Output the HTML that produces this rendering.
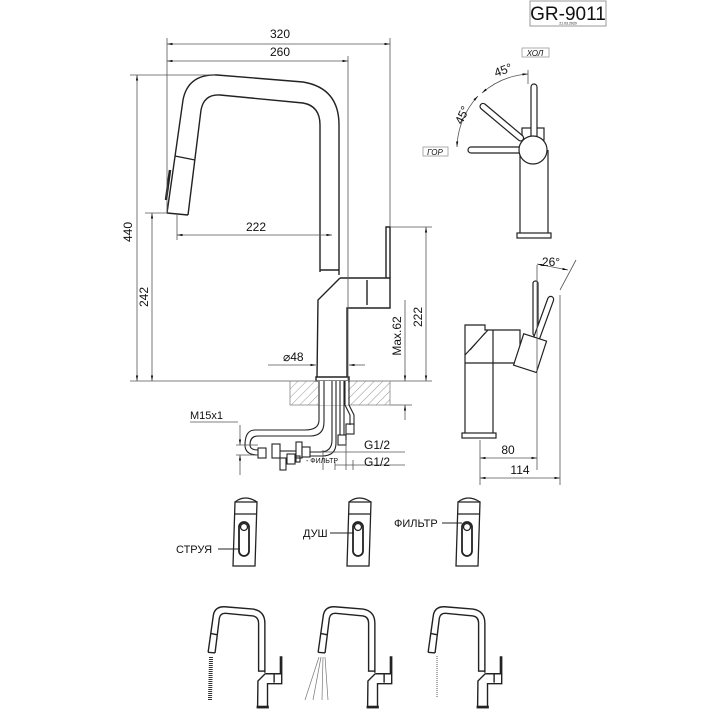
<!DOCTYPE html>
<html><head><meta charset="utf-8"><style>
html,body{margin:0;padding:0;background:#fff}
svg{display:block}
text{font-family:"Liberation Sans","DejaVu Sans",sans-serif;fill:#111}
#fau *{vector-effect:non-scaling-stroke}
</style></head><body>
<svg width="720" height="720" viewBox="0 0 720 720" xmlns="http://www.w3.org/2000/svg">
<defs>
<marker id="a" viewBox="0 0 10 10" refX="10" refY="5" markerWidth="7" markerHeight="7" orient="auto-start-reverse"><path d="M0,3 L10,5 L0,7 z" fill="#111"/></marker>
<pattern id="h" width="6" height="6" patternUnits="userSpaceOnUse" patternTransform="rotate(45)"><line x1="0" y1="0" x2="0" y2="6" stroke="#999" stroke-width="1"/></pattern>
<g id="fau" fill="none" stroke="#222" stroke-width="1.4">
<path d="M167,213 L183,100 Q188,74 217,75 L303,82 Q339,88 339,125 L339,275"/>
<path d="M188,215 L201,110 Q204,94 220,95 L303,103 Q320,106 320,125 L320,272"/>
<path d="M175,156 L195,160 M167,213 L188,215"/>
<path d="M320,270 L339,270"/>
<path d="M340,278 L318,300 L317,377 M340,278 L390,278 L390,308 L347,308 L347,377"/>
<path d="M386,278 L386,227 L390,227 L390,278"/>
<path d="M367,280 L367,305"/>
<rect x="316" y="377" width="33" height="4"/>
</g>
</defs>

<!-- title -->
<rect x="530" y="1" width="76" height="25" fill="none" stroke="#999" stroke-width="1"/>
<text x="568" y="20" font-size="19" text-anchor="middle">GR-9011</text>
<text x="568" y="24.5" font-size="3.5" text-anchor="middle">21.03.2020</text>

<!-- main faucet -->
<use href="#fau"/>
<path d="M170,170 L166,200" stroke="#222" stroke-width="2.5" fill="none"/>

<!-- dims -->
<g stroke="#555" stroke-width="0.8" fill="none">
<line x1="167" y1="44" x2="390" y2="44" marker-start="url(#a)" marker-end="url(#a)"/>
<line x1="167" y1="61" x2="348" y2="61" marker-start="url(#a)" marker-end="url(#a)"/>
<line x1="167" y1="38" x2="167" y2="213"/>
<line x1="390" y1="38" x2="390" y2="227"/>
<line x1="348" y1="56" x2="348" y2="381"/>
<line x1="130" y1="75" x2="215" y2="75"/>
<line x1="137" y1="75" x2="137" y2="381" marker-start="url(#a)" marker-end="url(#a)"/>
<line x1="145" y1="213" x2="167" y2="213"/>
<line x1="152" y1="213" x2="152" y2="381" marker-start="url(#a)" marker-end="url(#a)"/>
<line x1="177" y1="235" x2="332" y2="235" marker-start="url(#a)" marker-end="url(#a)"/>
<line x1="177" y1="215" x2="177" y2="240"/>
<line x1="390" y1="227" x2="432" y2="227"/>
<line x1="426" y1="227" x2="426" y2="381" marker-start="url(#a)" marker-end="url(#a)"/>
<line x1="405" y1="300" x2="405" y2="381" marker-end="url(#a)"/>
<line x1="405" y1="420" x2="405" y2="405" marker-end="url(#a)"/>
<line x1="130" y1="381" x2="432" y2="381"/>
<line x1="268" y1="365" x2="316" y2="365" marker-end="url(#a)"/>
<line x1="365" y1="365" x2="349" y2="365" marker-end="url(#a)"/>
<line x1="390" y1="405" x2="412" y2="405"/>
</g>
<text x="280" y="38" font-size="12" text-anchor="middle">320</text>
<text x="280" y="56" font-size="12" text-anchor="middle">260</text>
<text x="256" y="231" font-size="12" text-anchor="middle">222</text>
<text x="283" y="361" font-size="12">⌀48</text>
<text font-size="12" text-anchor="middle" transform="translate(132,232) rotate(-90)">440</text>
<text font-size="12" text-anchor="middle" transform="translate(148,297) rotate(-90)">242</text>
<text font-size="12" text-anchor="middle" transform="translate(422,317) rotate(-90)">222</text>
<text font-size="12" text-anchor="middle" transform="translate(401,336) rotate(-90)">Max.62</text>

<!-- counter -->
<rect x="290" y="381" width="100" height="24" fill="url(#h)" stroke="#888" stroke-width="0.8"/>
<rect x="318" y="381" width="30" height="24" fill="#fff"/>
<!-- hoses -->
<g fill="none" stroke="#222" stroke-width="1.1">
<path d="M319,381 L319,420 Q319,430 305,430 L255,430 Q245,430 245,445 Q245,455 258,455"/>
<path d="M324,381 L324,422 Q324,436 310,436 L258,436 Q250,436 250,445 Q250,450 258,450"/>
<path d="M332,381 L332,440 Q332,452 320,452 L310,452 M336,381 L336,443 Q336,456 322,456 L310,456"/>
<path d="M340,381 L340,435 M344,381 L344,435"/>
<path d="M345,381 L345,405 L350,415 L350,425 M349,381 L349,405 L354,415 L354,425"/>
<rect x="258" y="448" width="8" height="10"/><rect x="272" y="444" width="8" height="14"/>
<rect x="296" y="442" width="6" height="16"/>
<line x1="280" y1="451" x2="296" y2="451"/>
<rect x="302" y="447" width="8" height="10"/>
<rect x="338" y="435" width="8" height="10"/>
<rect x="346" y="424" width="8" height="10"/>
<rect x="280" y="458" width="6" height="12"/>
<rect x="287" y="454" width="8" height="10"/><rect x="296" y="456" width="4" height="6"/>
</g>
<g stroke="#555" stroke-width="0.8" fill="none">
<line x1="236" y1="445" x2="258" y2="445"/><line x1="236" y1="455" x2="258" y2="455"/>
<line x1="240" y1="425" x2="240" y2="445" marker-end="url(#a)"/>
<line x1="240" y1="475" x2="240" y2="455" marker-end="url(#a)"/>
<line x1="190" y1="422" x2="238" y2="422"/>
<line x1="323" y1="452" x2="405" y2="452"/>
<line x1="335" y1="465" x2="405" y2="465"/>
<line x1="323" y1="450" x2="323" y2="470"/><line x1="346" y1="440" x2="346" y2="470"/>
<line x1="335" y1="462" x2="335" y2="470"/><line x1="353" y1="460" x2="353" y2="470"/>
</g>
<text x="190" y="419" font-size="11">M15x1</text>
<text x="364" y="449" font-size="12">G1/2</text>
<text x="364" y="466" font-size="12">G1/2</text>
<text x="306" y="463" font-size="7">- ФИЛЬТР</text>

<!-- top view right -->
<g fill="none" stroke="#222" stroke-width="1.2">
<path d="M520,150 L520,233 M548,150 L548,233"/>
<rect x="517" y="233" width="34" height="5"/>
<rect x="522" y="128" width="22" height="12"/>
<rect x="531" y="84" width="6" height="58" rx="3" fill="#fff"/>
<rect x="468" y="147" width="55" height="6" rx="3" fill="#fff"/>
<g transform="rotate(40 529 145)"><rect x="466" y="142" width="55" height="6" rx="3" fill="#fff"/></g>
<circle cx="533" cy="150" r="14" fill="#fff"/>
</g>
<g stroke="#555" stroke-width="0.8" fill="none">
<path d="M457,147 A78,78 0 0 1 478,96" marker-start="url(#a)" marker-end="url(#a)"/>
<path d="M482,93 A78,78 0 0 1 528,74" marker-start="url(#a)" marker-end="url(#a)"/>
<line x1="528" y1="70" x2="528" y2="84"/>
<rect x="522" y="48" width="27" height="9" stroke="#999"/>
<rect x="423" y="147" width="25" height="9" stroke="#999"/>
</g>
<text x="535" y="56" font-size="8" text-anchor="middle" font-style="italic">ХОЛ</text>
<text x="435" y="155" font-size="8" text-anchor="middle" font-style="italic">ГОР</text>
<text font-size="12" transform="translate(496,77) rotate(-20)">45°</text>
<text font-size="12" transform="translate(462,125) rotate(-65)">45°</text>

<!-- side view -->
<g fill="none" stroke="#222" stroke-width="1.2">
<path d="M465,433 L465,325 L485,325 L485,330 L520,330 L520,363 L493,363 L493,433"/>
<path d="M465,355 L488,330 M465,363 L493,363 M493,330 L493,363 M470,350 L485,333"/>
<rect x="462" y="433" width="34" height="5"/>
<rect x="533" y="281" width="5" height="55" rx="2.5"/>
<g transform="rotate(20 540 320)"><rect x="540" y="294" width="6" height="65" rx="3" fill="#fff"/></g>
<g transform="rotate(18 528 353)"><rect x="518" y="336" width="24" height="33" fill="#fff"/></g>
</g>
<g stroke="#555" stroke-width="0.8" fill="none">
<line x1="537" y1="265" x2="537" y2="470"/>
<line x1="560" y1="295" x2="560" y2="485"/>
<line x1="480" y1="440" x2="480" y2="485"/>
<line x1="480" y1="458" x2="537" y2="458" marker-start="url(#a)" marker-end="url(#a)"/>
<line x1="480" y1="478" x2="560" y2="478" marker-start="url(#a)" marker-end="url(#a)"/>
<line x1="560" y1="290" x2="576" y2="260"/>
<line x1="537" y1="264" x2="568" y2="270" marker-start="url(#a)" marker-end="url(#a)"/>
</g>
<text x="551" y="266" font-size="12" text-anchor="middle">26°</text>
<text x="508" y="454" font-size="12" text-anchor="middle">80</text>
<text x="520" y="474" font-size="12" text-anchor="middle">114</text>

<!-- cartridges -->
<g fill="none" stroke="#222" stroke-width="1.3">
<g transform="translate(233,500)"><path d="M2,2 L24,2 L22,66 L0,66 Z"/><path d="M2,2 Q12,-6 24,2 M1,14 L23,14"/><rect x="6" y="22" width="10" height="34" rx="5" stroke-width="1.8"/><circle cx="11" cy="27" r="3.5"/></g>
<g transform="translate(347,500)"><path d="M2,2 L24,2 L22,66 L0,66 Z"/><path d="M2,2 Q12,-6 24,2 M1,14 L23,14"/><rect x="6" y="22" width="10" height="34" rx="5" stroke-width="1.8"/><circle cx="11" cy="27" r="3.5"/></g>
<g transform="translate(456,500)"><path d="M2,2 L24,2 L22,66 L0,66 Z"/><path d="M2,2 Q12,-6 24,2 M1,14 L23,14"/><rect x="6" y="22" width="10" height="34" rx="5" stroke-width="1.8"/><circle cx="11" cy="27" r="3.5"/></g>
<line x1="218" y1="549" x2="240" y2="549" stroke-width="1"/>
<line x1="330" y1="533" x2="354" y2="533" stroke-width="1"/>
<line x1="442" y1="523" x2="462" y2="523" stroke-width="1"/>
</g>
<text x="176" y="553" font-size="11">СТРУЯ</text>
<text x="303" y="537" font-size="11">ДУШ</text>
<text x="394" y="527" font-size="11">ФИЛЬТР</text>

<!-- mini faucets -->
<g transform="translate(153,582) scale(0.33)"><use href="#fau"/></g>
<g transform="translate(263,582) scale(0.33)"><use href="#fau"/></g>
<g transform="translate(373,582) scale(0.33)"><use href="#fau"/></g>
<line x1="211" y1="657" x2="210" y2="700" stroke="#333" stroke-width="4" stroke-dasharray="1 1"/>
<g stroke="#777" stroke-width="0.7"><line x1="319" y1="657" x2="305" y2="700"/><line x1="321" y1="657" x2="313" y2="700"/><line x1="323" y1="657" x2="322" y2="700"/><line x1="325" y1="657" x2="328" y2="700"/></g>
<line x1="437" y1="656" x2="437" y2="698" stroke="#aaa" stroke-width="2" stroke-dasharray="1 1"/>
</svg>
</body></html>
